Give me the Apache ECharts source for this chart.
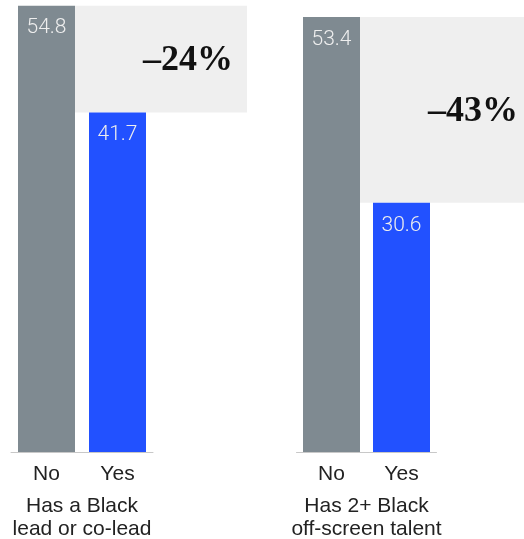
<!DOCTYPE html>
<html>
<head>
<meta charset="utf-8">
<script src="https://cdn.jsdelivr.net/npm/echarts@6/dist/echarts.min.js"></script>
<style>
  html, body { margin: 0; padding: 0; background: #fff; }
  #chart { width: 524px; height: 539px; }
</style>
</head>
<body>
<div id="chart"></div>
<script>
// Share of films, by whether Black talent is present
const categories = ['No', 'Yes'];
const leadValues = [54.8, 41.7];
const offScreenValues = [53.4, 30.6];
const panelTitles = ['Has a Black\nlead or co-lead', 'Has 2+ Black\noff-screen talent'];

const GREY = '#7f8a91';
const BLUE = '#2251ff';
const BOX = '#efefef';
const Y_MAX = 55.5;

const chart = echarts.init(document.getElementById('chart'));

function xAxis(gridIndex, name) {
  return {
    type: 'category',
    gridIndex: gridIndex,
    data: categories,
    axisTick: { show: false },
    axisLine: { lineStyle: { color: '#c8c8c8', width: 1 } },
    axisLabel: {
      margin: 12,
      fontFamily: 'Liberation Sans',
      fontSize: 21,
      color: '#222'
    },
    name: name,
    nameLocation: 'middle',
    nameGap: 43,
    nameTextStyle: {
      fontFamily: 'Liberation Sans',
      fontSize: 21,
      lineHeight: 23,
      color: '#222'
    }
  };
}

function yAxis(gridIndex) {
  return {
    type: 'value',
    gridIndex: gridIndex,
    min: 0,
    max: Y_MAX,
    show: false
  };
}

function barSeries(idx, values) {
  return {
    type: 'bar',
    xAxisIndex: idx,
    yAxisIndex: idx,
    barWidth: 57,
    z: 5,
    data: values.map((v, i) => ({
      value: v,
      itemStyle: { color: i === 0 ? GREY : BLUE }
    })),
    label: {
      show: true,
      position: 'insideTop',
      distance: 12,
      fontFamily: 'Roboto',
      fontWeight: 300,
      fontSize: 21,
      color: '#eeeeee',
      formatter: p => p.value.toFixed(1)
    }
  };
}

chart.setOption({
  animation: false,
  grid: [
    { left: 11, width: 142, top: 0, bottom: 87, outerBoundsMode: 'none' },
    { left: 296.5, width: 140, top: 0, bottom: 87, outerBoundsMode: 'none' }
  ],
  xAxis: [xAxis(0, panelTitles[0]), xAxis(1, panelTitles[1])],
  yAxis: [yAxis(0), yAxis(1)],
  series: [barSeries(0, leadValues), barSeries(1, offScreenValues)]
});

// Shaded gap between the two bars, with the relative change written inside
function gapGraphics(gridIndex, values) {
  const barHalf = 57 / 2;
  const topPt = chart.convertToPixel({ gridIndex: gridIndex }, [categories[0], values[0]]);
  const botPt = chart.convertToPixel({ gridIndex: gridIndex }, [categories[1], values[1]]);
  const x0 = topPt[0] + barHalf;
  const w = 172;
  const change = Math.round((values[1] - values[0]) / values[0] * 100);
  return [
    {
      type: 'rect',
      z: 1,
      shape: { x: x0, y: topPt[1], width: w, height: botPt[1] - topPt[1] },
      style: { fill: BOX }
    },
    {
      type: 'text',
      z: 2,
      x: x0 + w - 14,
      y: (topPt[1] + botPt[1]) / 2 + 2,
      style: {
        text: '\u2013' + Math.abs(change) + '%',
        align: 'right',
        verticalAlign: 'middle',
        fontFamily: 'Liberation Serif',
        fontWeight: 'bold',
        fontSize: 36,
        fill: '#111'
      }
    }
  ];
}

chart.setOption({
  graphic: gapGraphics(0, leadValues).concat(gapGraphics(1, offScreenValues))
});
</script>
</body>
</html>
